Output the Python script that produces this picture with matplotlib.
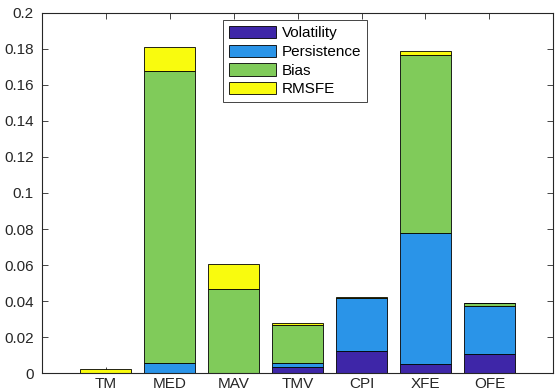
import matplotlib
matplotlib.use("Agg")
import matplotlib.pyplot as plt
import numpy as np

plt.rcParams['font.family'] = ['Liberation Sans', 'DejaVu Sans']

categories = ["TM", "MED", "MAV", "TMV", "CPI", "XFE", "OFE"]
volatility = [0.0000, 0.0000, 0.0000, 0.0033, 0.0122, 0.0052, 0.0105]
persistence = [0.0000, 0.0059, 0.0000, 0.0022, 0.0295, 0.0724, 0.0270]
bias = [0.0004, 0.1618, 0.0468, 0.0211, 0.0003, 0.0988, 0.0013]
rmsfe = [0.0020, 0.0131, 0.0138, 0.0015, 0.0002, 0.0025, 0.0001]
series_names = ["Volatility", "Persistence", "Bias", "RMSFE"]
colors = ["#3E26A8", "#2A94E8", "#80CB5A", "#F9FB0E"]
yticks = [0, 0.02, 0.04, 0.06, 0.08, 0.1, 0.12, 0.14, 0.16, 0.18, 0.2]
ytick_labels = ["0", "0.02", "0.04", "0.06", "0.08", "0.1", "0.12", "0.14", "0.16", "0.18", "0.2"]

fig = plt.figure(figsize=(5.55, 3.92), dpi=100)
ax = fig.add_axes([42/555, 1-373.3/392, (553.3-42)/555, (373.3-12.7)/392])

x = np.arange(1, len(categories)+1)
bottom = np.zeros(len(categories))
for name, vals, c in zip(series_names, [volatility, persistence, bias, rmsfe], colors):
    vals = np.array(vals)
    ax.bar(x, vals, width=0.8, bottom=bottom, color=c, edgecolor="black",
           linewidth=0.6, label=name, zorder=2)
    bottom += vals

ax.set_xlim(0, 8)
ax.set_ylim(0, 0.2)
ax.set_xticks(x)
ax.set_xticklabels(categories)
ax.set_yticks(yticks)
ax.set_yticklabels(ytick_labels)
for s in ax.spines.values():
    s.set_color("#262626")
    s.set_linewidth(0.8)
ax.tick_params(direction="in", length=4, width=0.6, color="#262626",
               labelsize=11, labelcolor="#262626", top=True, right=True)
ax.tick_params(axis="x", pad=3)
ax.tick_params(axis="y", pad=6)

leg = ax.legend(loc="upper left", bbox_to_anchor=(0.354, 0.98), fontsize=11,
                frameon=True, fancybox=False, framealpha=1, edgecolor="#262626",
                handlelength=3.1, handleheight=0.85, labelspacing=0.28,
                handletextpad=0.35, borderpad=0.4, borderaxespad=0)
leg.get_frame().set_linewidth(0.6)

fig.savefig("out.png", dpi=100)
